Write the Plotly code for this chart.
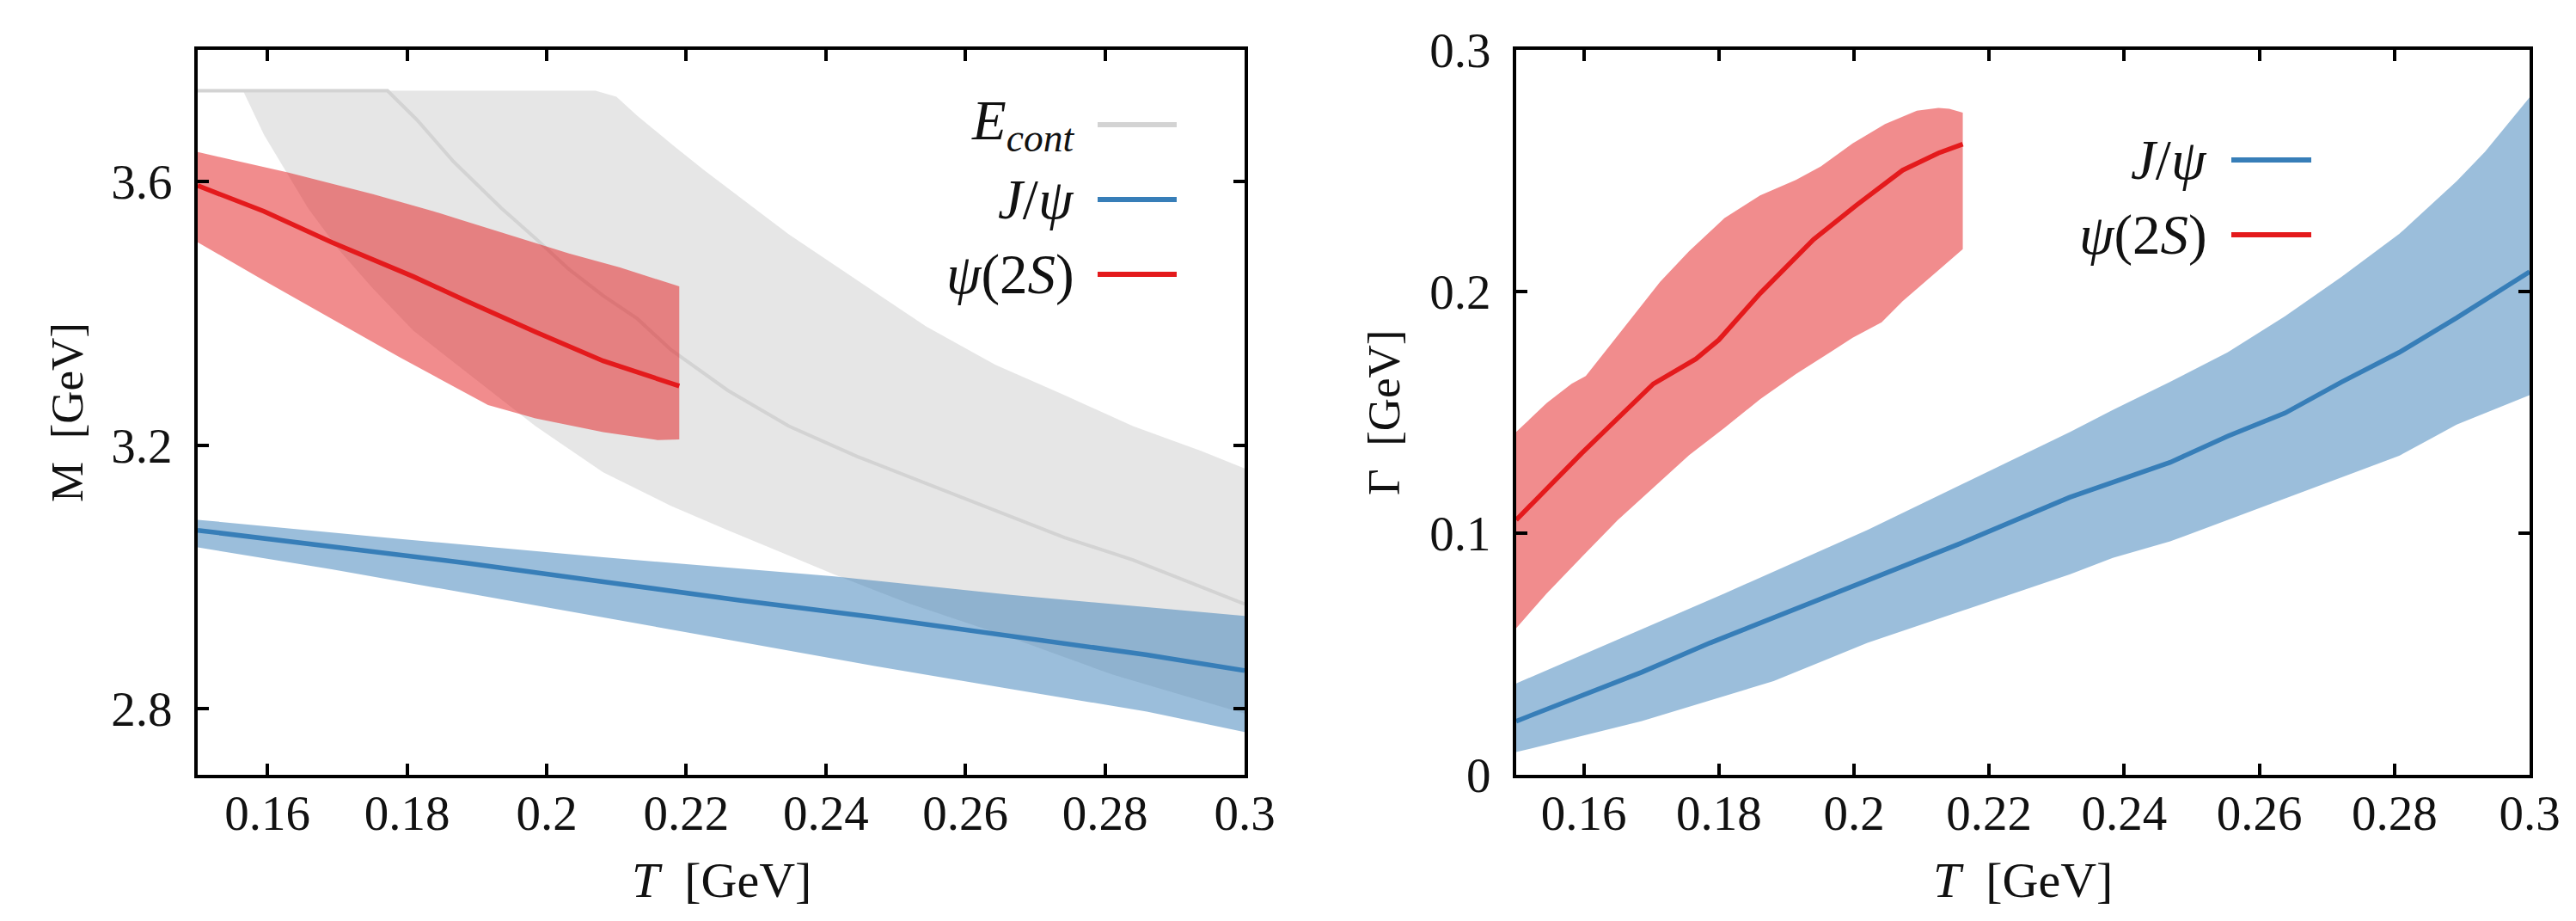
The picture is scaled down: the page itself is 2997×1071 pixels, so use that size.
import plotly.graph_objects as go

W, H = 2997, 1071
FONT = "Liberation Serif"

# ---------------- panneau gauche : M(T) ----------------
T_econt_up = [0.150, 0.207, 0.210, 0.213, 0.218, 0.2225, 0.2347, 0.2445, 0.2544,
              0.2643, 0.2742, 0.2840, 0.2939, 0.300]
M_econt_up = [3.738, 3.738, 3.729, 3.700, 3.656, 3.618, 3.520, 3.450, 3.380,
              3.322, 3.276, 3.229, 3.191, 3.165]
T_econt_lo = [0.1565, 0.1595, 0.1624, 0.1658, 0.1702, 0.1751, 0.1809, 0.1887, 0.1984,
              0.2081, 0.2178, 0.2260, 0.2324, 0.2412, 0.2519, 0.2665, 0.2811, 0.300]
M_econt_lo = [3.738, 3.671, 3.619, 3.560, 3.497, 3.438, 3.374, 3.310, 3.229,
              3.159, 3.108, 3.071, 3.043, 3.004, 2.960, 2.908, 2.852, 2.793]
T_econt = [0.150, 0.1772, 0.1814, 0.1867, 0.1935, 0.1984, 0.2032, 0.2081, 0.2130, 0.2178,
           0.2260, 0.2347, 0.2445, 0.2544, 0.2643, 0.2742, 0.2840, 0.2939, 0.300]
M_econt = [3.738, 3.738, 3.694, 3.630, 3.560, 3.514, 3.467, 3.427, 3.392, 3.345,
           3.283, 3.229, 3.183, 3.142, 3.101, 3.060, 3.026, 2.985, 2.959]

T_jpsi_M = [0.150, 0.1692, 0.1887, 0.2081, 0.2276, 0.2470, 0.2665, 0.2860, 0.300]
M_jpsi = [3.071, 3.047, 3.021, 2.993, 2.965, 2.939, 2.910, 2.882, 2.858]
M_jpsi_lo = [3.045, 3.012, 2.975, 2.939, 2.902, 2.865, 2.830, 2.796, 2.765]
T_jpsi_M_up = [0.150, 0.179, 0.2081, 0.2412, 0.2665, 0.300]
M_jpsi_up = [3.087, 3.058, 3.030, 3.001, 2.973, 2.941]

T_psi2s_M_up = [0.150, 0.1629, 0.1751, 0.1838, 0.1935, 0.2032, 0.2105, 0.2190]
M_psi2s_up = [3.645, 3.614, 3.581, 3.555, 3.523, 3.491, 3.470, 3.441]
T_psi2s_M_lo = [0.150, 0.1595, 0.1692, 0.1789, 0.1916, 0.1984, 0.2081, 0.2159, 0.2190]
M_psi2s_lo = [3.508, 3.450, 3.392, 3.334, 3.261, 3.241, 3.220, 3.208, 3.209]
T_psi2s_M = [0.150, 0.1595, 0.1692, 0.1809, 0.1887, 0.1984, 0.2081, 0.2190]
M_psi2s = [3.594, 3.555, 3.508, 3.456, 3.418, 3.372, 3.328, 3.290]

# ---------------- panneau droit : Gamma(T) ----------------
T_jpsi_G_up = [0.150, 0.164, 0.1808, 0.202, 0.2178, 0.232, 0.2383, 0.2468, 0.2553,
               0.2638, 0.2722, 0.2807, 0.2892, 0.2934, 0.300]
G_jpsi_up = [0.0378, 0.0546, 0.075, 0.1013, 0.1228, 0.1419, 0.151, 0.1626, 0.1748,
             0.1898, 0.2061, 0.2238, 0.2456, 0.2578, 0.2803]
T_jpsi_G_lo = [0.150, 0.1686, 0.1881, 0.202, 0.232, 0.2383, 0.2468, 0.2553, 0.2638,
               0.2722, 0.2807, 0.2892, 0.300]
G_jpsi_lo = [0.0094, 0.0222, 0.0388, 0.0546, 0.083, 0.0898, 0.0966, 0.1054, 0.1143,
             0.1231, 0.1320, 0.1449, 0.1571]
T_jpsi_G = [0.150, 0.1686, 0.1787, 0.1998, 0.2157, 0.2319, 0.2383, 0.2468, 0.2553,
            0.2638, 0.2722, 0.2807, 0.2892, 0.300]
G_jpsi = [0.0222, 0.0425, 0.0546, 0.0782, 0.0957, 0.1148, 0.1211, 0.1293, 0.1401,
          0.1497, 0.1626, 0.1748, 0.1891, 0.2082]

T_psi2s_G_up = [0.150, 0.1545, 0.1582, 0.1603, 0.165, 0.1713, 0.1756, 0.1808, 0.1861,
                0.1914, 0.1951, 0.1998, 0.2046, 0.2093, 0.2125, 0.2141, 0.2161]
G_psi2s_up = [0.1419, 0.1538, 0.1618, 0.165, 0.1817, 0.204, 0.2167, 0.2303, 0.2398,
              0.2462, 0.2518, 0.2613, 0.2693, 0.2748, 0.276, 0.2756, 0.274]
T_psi2s_G_lo = [0.150, 0.1545, 0.1597, 0.165, 0.1703, 0.1756, 0.1808, 0.1861, 0.1914,
                0.1967, 0.1998, 0.2041, 0.2072, 0.2125, 0.2161]
G_psi2s_lo = [0.0607, 0.075, 0.0901, 0.1053, 0.1188, 0.1323, 0.1435, 0.1554, 0.1658,
              0.1753, 0.1809, 0.1873, 0.196, 0.2088, 0.2175]
T_psi2s_G = [0.150, 0.1597, 0.1703, 0.1766, 0.180, 0.1861, 0.194, 0.2004, 0.2072,
             0.2125, 0.2161]
G_psi2s = [0.1055, 0.1331, 0.1618, 0.1721, 0.180, 0.1992, 0.2215, 0.2358, 0.2502,
           0.2573, 0.261]

T_ticks = [0.16, 0.18, 0.2, 0.22, 0.24, 0.26, 0.28, 0.3]
T_ticktext = ["0.16", "0.18", "0.2", "0.22", "0.24", "0.26", "0.28", "0.3"]
M_ticks = [2.8, 3.2, 3.6]
G_ticks = [0, 0.1, 0.2, 0.3]
G_ticktext = ["0", "0.1", "0.2", "0.3"]

RED, BLUE, GREY = "#e41a1c", "#377eb8", "#d3d3d3"
RED_F, BLUE_F, GREY_F = "rgba(228,26,28,0.5)", "rgba(55,126,184,0.5)", "rgba(211,211,211,0.57)"


def band(tu, yu, tl, yl, color, xa, ya):
    """Bande d'incertitude: polygone haut + bas inversé."""
    return go.Scatter(x=list(tu) + list(tl)[::-1], y=list(yu) + list(yl)[::-1],
                      fill="toself", fillcolor=color, mode="lines", line=dict(width=0),
                      xaxis=xa, yaxis=ya, showlegend=False, hoverinfo="skip")


def curve(t, y, color, width, xa, ya):
    return go.Scatter(x=t, y=y, mode="lines", line=dict(color=color, width=width),
                      xaxis=xa, yaxis=ya, showlegend=False)


fig = go.Figure()
# gauche
fig.add_trace(band(T_econt_up, M_econt_up, T_econt_lo, M_econt_lo, GREY_F, "x", "y"))
fig.add_trace(curve(T_econt, M_econt, GREY, 4, "x", "y"))
fig.add_trace(band(T_jpsi_M_up, M_jpsi_up, T_jpsi_M, M_jpsi_lo, BLUE_F, "x", "y"))
fig.add_trace(curve(T_jpsi_M, M_jpsi, BLUE, 5.5, "x", "y"))
fig.add_trace(band(T_psi2s_M_up, M_psi2s_up, T_psi2s_M_lo, M_psi2s_lo, RED_F, "x", "y"))
fig.add_trace(curve(T_psi2s_M, M_psi2s, RED, 5.5, "x", "y"))
# droite
fig.add_trace(band(T_jpsi_G_up, G_jpsi_up, T_jpsi_G_lo, G_jpsi_lo, BLUE_F, "x2", "y2"))
fig.add_trace(curve(T_jpsi_G, G_jpsi, BLUE, 5.5, "x2", "y2"))
fig.add_trace(band(T_psi2s_G_up, G_psi2s_up, T_psi2s_G_lo, G_psi2s_lo, RED_F, "x2", "y2"))
fig.add_trace(curve(T_psi2s_G, G_psi2s, RED, 5.5, "x2", "y2"))

tick_font = dict(family=FONT, size=57, color="#111")
frame = dict(showline=True, linecolor="black", linewidth=4, mirror="ticks",
             ticks="inside", ticklen=13, tickwidth=4, tickcolor="black",
             showgrid=False, zeroline=False, tickfont=tick_font)

ydom = [1 - 893 / H, 1 - 50 / H]
fig.update_layout(
    width=W, height=H, template="none",
    paper_bgcolor="white", plot_bgcolor="white",
    margin=dict(l=0, r=0, t=0, b=0), showlegend=False,
    xaxis=dict(domain=[222 / W, 1440 / W], range=[0.15, 0.3], tickvals=T_ticks,
               ticktext=T_ticktext, anchor="y", ticklabelstandoff=-8, **frame),
    yaxis=dict(domain=ydom, range=[2.7, 3.8], tickvals=M_ticks, anchor="x",
               ticklabelstandoff=14, **frame),
    xaxis2=dict(domain=[1756 / W, 2935 / W], range=[0.15, 0.3], tickvals=T_ticks,
                ticktext=T_ticktext, anchor="y2", ticklabelstandoff=-8, **frame),
    yaxis2=dict(domain=ydom, range=[0, 0.3], tickvals=G_ticks, ticktext=G_ticktext,
                anchor="x2", ticklabelstandoff=14, **frame),
)

# titres d'axes
NB = "\u00a0"
xt_font = dict(family=FONT, size=58, color="#111")
yt_font = dict(family=FONT, size=53, color="#111")
for x, txt in [(831, f"<i>T</i>{NB}{NB}[GeV]"), (2345, f"<i>T</i>{NB}{NB}[GeV]")]:
    fig.add_annotation(x=x / W, y=1 - 1015 / H, xref="paper", yref="paper", text=txt,
                       showarrow=False, font=xt_font, xanchor="center", yanchor="middle")
for x, txt in [(70, f"M{NB}{NB}[GeV]"), (1602, f"Γ{NB}{NB}[GeV]")]:
    fig.add_annotation(x=x / W, y=1 - 472 / H, xref="paper", yref="paper", text=txt,
                       textangle=-90, showarrow=False, font=yt_font,
                       xanchor="center", yanchor="middle")

# légendes (texte à gauche du trait, comme l'original)
leg_font = dict(family=FONT, size=65, color="#111")
legends = [
    (1244, 1269, 1361, 137, "<i>E</i><sub><i>cont</i></sub>", GREY),
    (1244, 1269, 1361, 224, "<i>J</i>/<i>ψ</i>", BLUE),
    (1244, 1269, 1361, 311, "<i>ψ</i>(2<i>S</i>)", RED),
    (2562, 2588, 2681, 178, "<i>J</i>/<i>ψ</i>", BLUE),
    (2562, 2588, 2681, 265, "<i>ψ</i>(2<i>S</i>)", RED),
]
for xt, x0, x1, y, txt, col in legends:
    fig.add_annotation(x=xt / W, y=1 - y / H, xref="paper", yref="paper", text=txt,
                       showarrow=False, font=leg_font, xanchor="right", yanchor="middle")
    fig.add_shape(type="line", xref="paper", yref="paper", x0=x0 / W, x1=x1 / W,
                  y0=1 - y / H, y1=1 - y / H, line=dict(color=col, width=6))

fig.write_html("out.html")
